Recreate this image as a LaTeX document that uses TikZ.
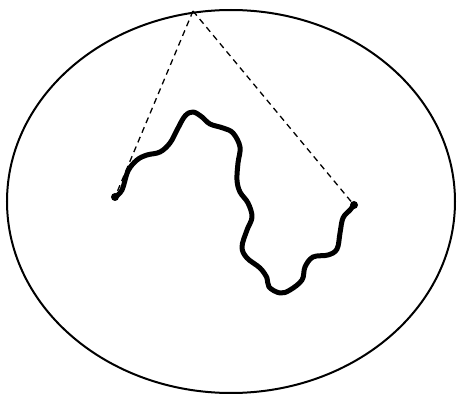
\documentclass[tikz,border=0pt]{standalone}
\begin{document}
\begin{tikzpicture}[x=1pt,y=-1pt,
  rim/.style={line width=2pt},
  chain/.style={line width=5pt,line cap=round,line join=round},
  sight/.style={line width=1.3pt,dash pattern=on 6pt off 4.5pt},
  enddot/.style={fill=black}]
\useasboundingbox (0,0) rectangle (459,396);
\draw[rim] (231,201.5) ellipse [x radius=224, y radius=191.5];
\coordinate (top) at (193,11);
\coordinate (A) at (115,197);
\coordinate (B) at (354,205);
\draw[sight] (top) -- (A);
\draw[sight] (top) -- (B);
\draw[chain] plot[smooth,tension=0.6] coordinates {
 (115,197) (122,190) (128,171) (137,160) (147,155) (160,152) (170,143)
 (177,130) (185,116) (193,112) (202,117) (210,124) (223,128) (233,133)
 (240,147) (238,163) (237,180) (240,192) (248,203) (252,217) (247,230)
 (242,247) (247,258) (260,268) (267,278) (269,287) (280,293) (290,290)
 (302,280) (305,267) (313,257) (328,255) (337,249) (340,233) (343,218)
 (350,210) (354,205)};
\fill[enddot] (A) circle (4);
\fill[enddot] (B) circle (4);
\end{tikzpicture}
\end{document}
